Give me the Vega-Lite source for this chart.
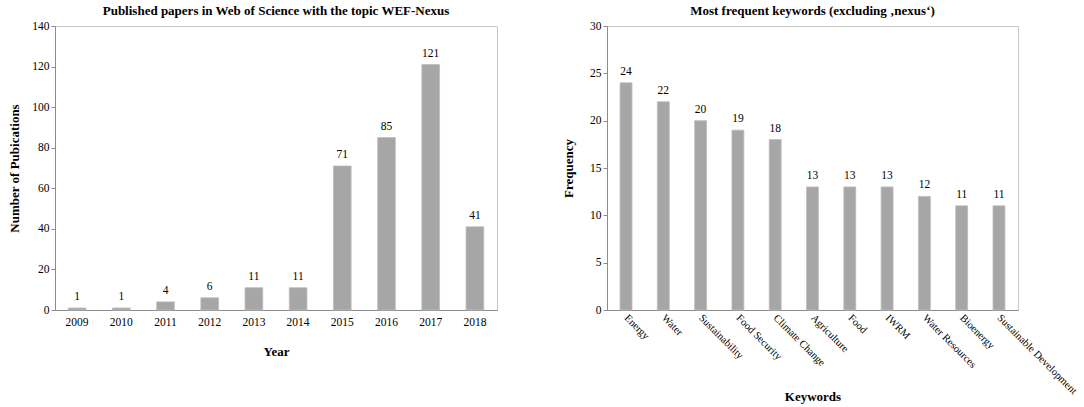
{
  "$schema": "https://vega.github.io/schema/vega-lite/v6.json",
  "background": "white",
  "padding": {"left": 8, "top": 4, "right": 5, "bottom": 2},
  "config": {
    "font": "Liberation Serif",
    "view": {"stroke": "#c8c8c8", "strokeWidth": 1},
    "axis": {
      "labelFont": "Liberation Serif",
      "labelFontSize": 11.5,
      "labelColor": "#000000",
      "titleFont": "Liberation Serif",
      "titleFontSize": 13,
      "titleFontWeight": "bold",
      "titleColor": "#000000",
      "domainColor": "#8c8c8c",
      "tickColor": "#8c8c8c",
      "tickSize": 4,
      "grid": false
    },
    "title": {"font": "Liberation Serif", "fontSize": 13, "fontWeight": "bold", "color": "#000000", "offset": 2},
    "concat": {"spacing": 64}
  },
  "datasets": {
    "papers": [
      {"year": "2009", "count": 1},
      {"year": "2010", "count": 1},
      {"year": "2011", "count": 4},
      {"year": "2012", "count": 6},
      {"year": "2013", "count": 11},
      {"year": "2014", "count": 11},
      {"year": "2015", "count": 71},
      {"year": "2016", "count": 85},
      {"year": "2017", "count": 121},
      {"year": "2018", "count": 41}
    ],
    "keywords": [
      {"keyword": "Energy", "freq": 24},
      {"keyword": "Water", "freq": 22},
      {"keyword": "Sustainability", "freq": 20},
      {"keyword": "Food Security", "freq": 19},
      {"keyword": "Climate Change", "freq": 18},
      {"keyword": "Agriculture", "freq": 13},
      {"keyword": "Food", "freq": 13},
      {"keyword": "IWRM", "freq": 13},
      {"keyword": "Water Resources", "freq": 12},
      {"keyword": "Bioenergy", "freq": 11},
      {"keyword": "Sustainable Development", "freq": 11}
    ]
  },
  "hconcat": [
    {
      "title": "Published papers in Web of Science with the topic WEF-Nexus",
      "width": 442,
      "height": 284,
      "data": {"name": "papers"},
      "encoding": {
        "x": {
          "field": "year",
          "type": "ordinal",
          "sort": null,
          "title": "Year",
          "scale": {"paddingInner": 0.6, "paddingOuter": 0.3},
          "axis": {"labelAngle": 0, "ticks": false, "labelPadding": 6, "titlePadding": 18}
        },
        "y": {
          "field": "count",
          "type": "quantitative",
          "title": "Number of Pubications",
          "scale": {"domain": [0, 140]},
          "axis": {"values": [0, 20, 40, 60, 80, 100, 120, 140], "titlePadding": 10}
        }
      },
      "layer": [
        {"mark": {"type": "bar", "color": "#a6a6a6", "stroke": "#bcbcbc", "strokeWidth": 0.8}},
        {
          "mark": {"type": "text", "dy": -11, "fontSize": 11.5, "color": "#000000"},
          "encoding": {"text": {"field": "count", "type": "quantitative"}}
        }
      ]
    },
    {
      "title": "Most frequent keywords (excluding \u201anexus\u2018)",
      "width": 411,
      "height": 284,
      "data": {"name": "keywords"},
      "encoding": {
        "x": {
          "field": "keyword",
          "type": "nominal",
          "sort": null,
          "title": "Keywords",
          "scale": {"paddingInner": 0.68, "paddingOuter": 0.35},
          "axis": {"labelAngle": 45, "labelAlign": "left", "labelBaseline": "middle", "ticks": false, "labelPadding": 6, "labelFontSize": 10.5, "titleY": 80}
        },
        "y": {
          "field": "freq",
          "type": "quantitative",
          "title": "Frequency",
          "scale": {"domain": [0, 30]},
          "axis": {"values": [0, 5, 10, 15, 20, 25, 30], "titlePadding": 14}
        }
      },
      "layer": [
        {"mark": {"type": "bar", "color": "#a6a6a6", "stroke": "#bcbcbc", "strokeWidth": 0.8}},
        {
          "mark": {"type": "text", "dy": -11, "fontSize": 11.5, "color": "#000000"},
          "encoding": {"text": {"field": "freq", "type": "quantitative"}}
        }
      ]
    }
  ]
}
